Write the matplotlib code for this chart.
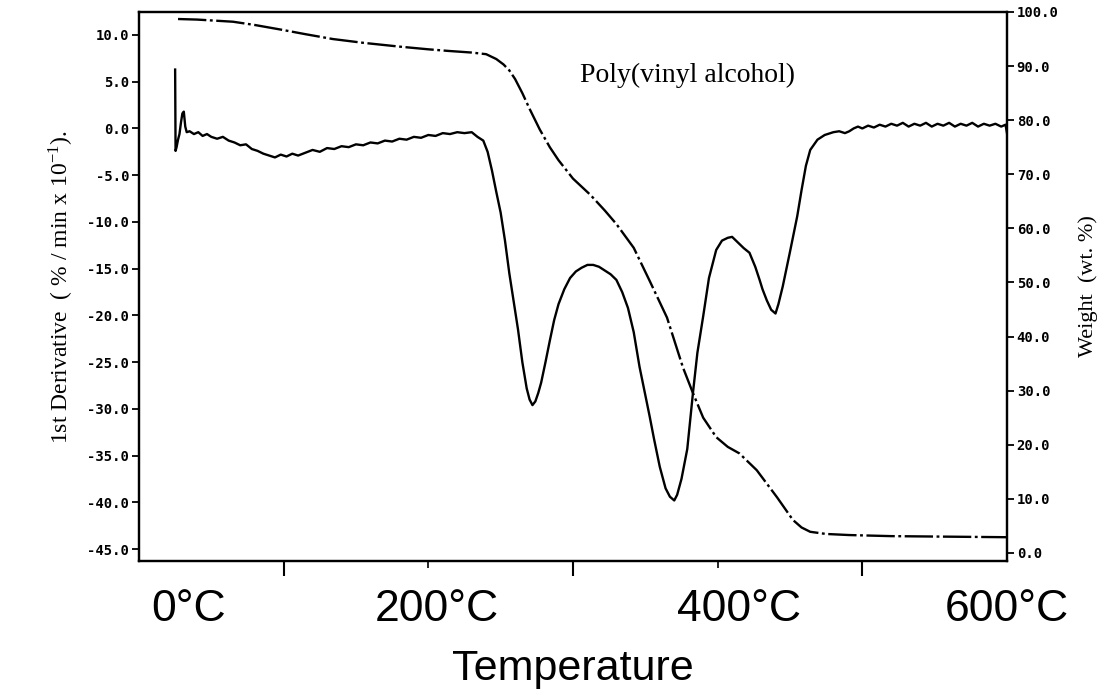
import matplotlib
matplotlib.use("Agg")
import matplotlib.pyplot as plt

plt.rcParams['axes.unicode_minus'] = False
plt.rcParams['mathtext.fontset'] = 'stix'

# ---- data ----
# derivative curve (left axis), temperature in °C
dtg_temp = [25, 25.3, 26, 27, 28, 29, 30, 31, 32, 33,
            35, 38, 41, 44, 47, 50, 54, 58, 62, 66,
            70, 74, 78, 82, 86, 90, 94, 98, 102, 106,
            110, 115, 120, 125, 130, 135, 140, 145, 150, 155,
            160, 165, 170, 175, 180, 185, 190, 195, 200, 205,
            210, 215, 220, 225, 230, 234, 238, 241, 244, 247,
            250, 253, 256, 259, 262, 265, 268, 270, 272, 274,
            276, 278, 281, 284, 287, 290, 294, 298, 302, 306,
            310, 314, 318, 322, 326, 330, 334, 338, 342, 346,
            350, 353, 356, 360, 364, 367, 370, 372, 375, 379,
            383, 386, 390, 394, 399, 403, 407, 410, 414, 418,
            422, 426, 429, 431, 434, 437, 440, 442, 445, 450,
            455, 458, 461, 464, 469, 474, 480, 484, 488, 491,
            494, 497, 500, 504, 508, 512, 516, 520, 524, 528,
            532, 536, 540, 544, 548, 552, 556, 560, 564, 568,
            572, 576, 580, 584, 588, 592, 596, 599, 600]
dtg_value = [6.3, -2.4, -2.0, -1.2, -0.6, 0.6, 1.6, 1.8, 0.2, -0.4,
             -0.3, -0.6, -0.4, -0.8, -0.6, -0.9, -1.1, -0.9, -1.3, -1.5,
             -1.8, -1.7, -2.2, -2.4, -2.7, -2.9, -3.1, -2.8, -3.0, -2.7,
             -2.9, -2.6, -2.3, -2.5, -2.1, -2.2, -1.9, -2.0, -1.7, -1.8,
             -1.5, -1.6, -1.3, -1.4, -1.1, -1.2, -0.9, -1.0, -0.7, -0.8,
             -0.5, -0.6, -0.4, -0.5, -0.4, -0.9, -1.3, -2.5, -4.5, -6.8,
             -9.0, -12.0, -15.5, -18.5, -21.5, -25.0, -27.8, -29.0, -29.6, -29.2,
             -28.3, -27.2, -25.0, -22.7, -20.5, -18.8, -17.2, -16.0, -15.3, -14.9,
             -14.6, -14.6, -14.8, -15.2, -15.6, -16.2, -17.5, -19.2, -21.8, -25.5,
             -28.5, -30.8, -33.2, -36.2, -38.5, -39.4, -39.8, -39.2, -37.5, -34.3,
             -28.2, -24.0, -20.1, -16.0, -13.0, -12.0, -11.7, -11.6, -12.2, -12.8,
             -13.3, -14.8, -16.2, -17.2, -18.4, -19.4, -19.8, -18.8, -16.9, -13.2,
             -9.4, -6.6, -4.0, -2.3, -1.2, -0.7, -0.4, -0.3, -0.5, -0.3,
             0.0, 0.2, 0.0, 0.3, 0.1, 0.4, 0.2, 0.5, 0.3, 0.6,
             0.2, 0.5, 0.3, 0.6, 0.2, 0.5, 0.3, 0.6, 0.2, 0.5,
             0.3, 0.6, 0.2, 0.5, 0.3, 0.5, 0.2, 0.4, -0.5]

# weight curve (right axis)
wt_temp = [27, 40, 65, 80, 99, 115, 134, 155, 180, 200,
           214, 230, 240, 247, 252, 256, 260, 265, 270, 277,
           284, 290, 300, 312, 322, 330, 342, 353, 365, 376,
           383, 390, 399, 407, 415, 427, 434, 441, 452, 458,
           464, 475, 491, 520, 560, 600]
wt_value = [98.7, 98.6, 98.2, 97.6, 96.7, 95.9, 95.0, 94.3, 93.6, 93.1,
            92.8, 92.5, 92.2, 91.3, 90.3, 89.2, 87.6, 85.0, 82.1, 78.3,
            75.0, 72.6, 69.2, 66.2, 63.3, 60.8, 56.4, 50.3, 43.5, 34.3,
            29.5, 25.0, 21.4, 19.6, 18.4, 15.3, 12.8, 10.3, 6.1, 4.7,
            3.9, 3.5, 3.3, 3.1, 3.0, 2.9]

left_ticks = [-45, -40, -35, -30, -25, -20, -15, -10, -5, 0, 5, 10]
right_ticks = [0, 10, 20, 30, 40, 50, 60, 70, 80, 90, 100]
x_long_ticks = [100, 300, 500]
x_short_ticks = [200, 400]
x_label_pos = [34, 206, 415, 600]
x_labels = ["0°C", "200°C", "400°C", "600°C"]

# ---- figure ----
fig = plt.figure(figsize=(11.18, 6.97), dpi=100)
ax = fig.add_axes([0.1243, 0.1951, 0.7764, 0.7877])
ax2 = ax.twinx()

ax.plot(dtg_temp, dtg_value, color='black', lw=1.7)
ax2.plot(wt_temp, wt_value, color='black', lw=1.7, dashes=(12, 1.5, 1.2, 1.5))

ax.set_xlim(0, 600)
ax.set_ylim(-46.28, 12.46)
ax2.set_ylim(-1.5, 100.0)

tick_font = dict(family='DejaVu Sans Mono', weight='bold', size=10)
ax.set_yticks(left_ticks)
ax.set_yticklabels([f"{v:.1f}" for v in left_ticks], fontdict=tick_font)
ax2.set_yticks(right_ticks)
ax2.set_yticklabels([f"{v:.1f}" for v in right_ticks], fontdict=tick_font)
ax.tick_params(axis='y', direction='out', length=5, width=1.3, pad=2)
ax2.tick_params(axis='y', direction='out', length=5, width=1.3, pad=2)

ax.set_xticks(x_long_ticks)
ax.set_xticks(x_short_ticks, minor=True)
ax.tick_params(axis='x', which='major', direction='out', length=11, width=1.5, labelbottom=False)
ax.tick_params(axis='x', which='minor', direction='out', length=5, width=1.2)

for a in (ax, ax2):
    for s in a.spines.values():
        s.set_linewidth(1.6)

sec = ax.secondary_xaxis('bottom')
sec.set_xticks(x_label_pos)
sec.set_xticklabels(x_labels, family='Liberation Sans', size=32)
sec.tick_params(length=0, pad=20)
sec.spines['bottom'].set_visible(False)
sec.set_xlabel("Temperature", family='Liberation Sans', size=31, labelpad=14)

ax.set_ylabel(r"1st Derivative  ( % / min x 10$^{\mathregular{-1}}$).", family='Liberation Serif',
              size=17, labelpad=8)
ax2.set_ylabel("Weight  (wt. %)", family='Liberation Serif', size=16, labelpad=14)

ax.text(305, 5.7, "Poly(vinyl alcohol)", family='Liberation Serif', size=20, va='center', ha='left')

fig.savefig("out.png", dpi=100)
